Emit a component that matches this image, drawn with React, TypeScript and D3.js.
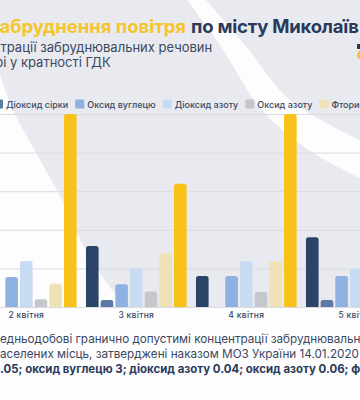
import React, { useEffect, useRef } from 'react';
import * as d3 from 'd3';

// days shown on the x axis
const dates = ['2 квітня', '3 квітня', '4 квітня', '5 квітня'];

// pollutants, in bar / legend order
const pollutants = ['Пил', 'Діоксид сірки', 'Оксид вуглецю', 'Діоксид азоту', 'Оксид азоту', 'Фтористий водень', 'Формальдегід'];
const colors = ['#2b4468', '#5b79a3', '#8fb1e2', '#c7dbf3', '#c6c7ca', '#efe2b6', '#f7c21a'];

// values in multiples of ГДК, one per date
const dust = [1.2, 1.58, 0.8, 1.81];
const sulfurDioxide = [0, 0.18, 0, 0.18];
const carbonMonoxide = [0.78, 0.59, 0.8, 0.8];
const nitrogenDioxide = [1.19, 0.99, 1.19, 0.99];
const nitrogenOxide = [0.2, 0.4, 0.39, 0.4];
const hydrogenFluoride = [0.6, 1.39, 1.19, 1.0];
const formaldehyde = [5.0, 3.19, 5.0, 4.0];

const yTicks = [0, 1, 2, 3, 4, 5];

const series = [dust, sulfurDioxide, carbonMonoxide, nitrogenDioxide, nitrogenOxide, hydrogenFluoride, formaldehyde];

const W = 360;
const H = 400;
const FONT = 'Inter, "Open Sans", sans-serif';
const TEXT = '#3b4861';

export default function App() {
  const ref = useRef<SVGSVGElement>(null);

  useEffect(() => {
    const svg = d3.select(ref.current);
    svg.selectAll('*').remove();

    // background: grey with white swooshes
    svg.append('rect').attr('width', W).attr('height', H).attr('fill', '#e9eaef');
    const curve = d3.line().curve(d3.curveCatmullRom);
    const leftEdge: [number, number][] = [[0, 74], [13, 110], [35, 151], [60, 196], [84, 247], [112, 290], [128, 308]];
    svg.append('path')
      .attr('d', curve(leftEdge) + `L${W},308L${W},${H}L0,${H}Z`)
      .attr('fill', '#fdfdfe');
    const bandTop: [number, number][] = [[206, 0], [245, 45], [290, 100], [360, 140]];
    const bandBottom: [number, number][] = [[360, 178], [310, 151], [262, 110], [220, 45], [187, 0]];
    svg.append('path')
      .attr('d', curve(bandTop) + 'L' + curve(bandBottom)!.slice(1) + 'Z')
      .attr('fill', '#fdfdfe');

    // scales
    const x0 = d3.scaleBand().domain(dates).range([-28.7, 411.3]).paddingInner(0.085).paddingOuter(0.0425);
    const x1 = d3.scaleBand().domain(pollutants).range([0, x0.bandwidth()]).paddingInner(0.14);
    const y = d3.scaleLinear().domain([0, 5]).range([307, 114]);

    // grid
    svg.append('g').selectAll('line').data(yTicks).join('line')
      .attr('x1', 0).attr('x2', W)
      .attr('y1', d => y(d) + 0.5).attr('y2', d => y(d) + 0.5)
      .attr('stroke', '#d9dbe1');

    // bars
    const r = 2.5;
    const groups = svg.append('g').selectAll('g').data(dates).join('g')
      .attr('transform', d => `translate(${x0(d)},0)`);
    groups.selectAll('path')
      .data((d, i) => series.map((s, k) => ({ key: pollutants[k], value: s[i], color: colors[k] })).filter(b => b.value > 0))
      .join('path')
      .attr('fill', d => d.color)
      .attr('d', d => {
        const bx = x1(d.key)!;
        const bw = x1.bandwidth();
        const top = y(d.value);
        const base = y(0);
        return `M${bx},${base}V${top + r}Q${bx},${top} ${bx + r},${top}H${bx + bw - r}Q${bx + bw},${top} ${bx + bw},${top + r}V${base}Z`;
      });

    // date labels
    svg.append('g').selectAll('text').data(dates).join('text')
      .attr('x', d => x0(d)! + x0.bandwidth() / 2)
      .attr('y', 317.5)
      .attr('text-anchor', 'middle')
      .attr('font-family', FONT).attr('font-size', 8.5).attr('font-weight', 500)
      .attr('letter-spacing', 0.3)
      .attr('fill', TEXT)
      .text(d => d);

    // text whose start is cut by the frame: the part after `cut` characters begins at visX
    const clipped = (parent: any, full: string, cut: number, visX: number, ty: number, size: number, weight: number, fill: string) => {
      const t = parent.append('text')
        .attr('y', ty)
        .attr('font-family', FONT).attr('font-size', size).attr('font-weight', weight)
        .attr('fill', fill)
        .style('white-space', 'pre')
        .text(full);
      const w = (t.node() as SVGTextElement).getSubStringLength(0, cut);
      t.attr('x', visX - w);
      return t;
    };

    // title, two coloured parts fitted to the widths they take in the poster
    const t1 = svg.append('text')
      .attr('y', 33)
      .attr('font-family', FONT).attr('font-size', 18.5).attr('font-weight', 700)
      .attr('fill', '#f5c52e')
      .text('Забруднення повітря');
    const zw = (t1.node() as SVGTextElement).getSubStringLength(0, 1);
    t1.attr('x', -zw - 0.5).attr('textLength', zw + 0.5 + 186).attr('lengthAdjust', 'spacing');
    svg.append('text')
      .attr('x', 191).attr('y', 33)
      .attr('font-family', FONT).attr('font-size', 18.5).attr('font-weight', 700)
      .attr('fill', '#2b3a5a')
      .attr('textLength', 168).attr('lengthAdjust', 'spacing')
      .text('по місту Миколаїв');

    clipped(svg, 'Концентрації забруднювальних речовин', 6, 0.5, 52, 13, 400, TEXT);
    clipped(svg, 'в атмосферному повітрі у кратності ГДК', 23, 10, 67, 13, 400, TEXT);

    // legend
    const legend = svg.append('g');
    const widths = pollutants.map(p => {
      const t = legend.append('text').attr('font-family', FONT).attr('font-size', 9).attr('font-weight', 500).text(p);
      const w = (t.node() as SVGTextElement).getComputedTextLength();
      t.remove();
      return w;
    });
    const xs: number[] = [];
    let lx = -6 - (12 + widths[0] + 7);
    widths.forEach(w => { xs.push(lx); lx += 12 + w + 7; });
    const items = legend.selectAll('g').data(pollutants).join('g')
      .attr('transform', (d, i) => `translate(${xs[i]},0)`);
    items.append('rect').attr('y', 99.5).attr('width', 9).attr('height', 9).attr('rx', 1)
      .attr('fill', (d, i) => colors[i]);
    items.append('text').attr('x', 12).attr('y', 107.5)
      .attr('font-family', FONT).attr('font-size', 9).attr('font-weight', 500)
      .attr('fill', TEXT).text(d => d);

    // small logo corner
    svg.append('circle').attr('cx', 362).attr('cy', 55).attr('r', 5).attr('fill', '#f5c52e');
    svg.append('rect').attr('x', 357).attr('y', 44).attr('width', 4).attr('height', 5).attr('fill', '#2b3a5a');

    // footnote
    clipped(svg, '*Середньодобові гранично допустимі концентрації забруднювальних речовин в атмосферному повітрі', 4, 0, 343, 11.7, 400, TEXT);
    clipped(svg, 'для населених місць, затверджені наказом МОЗ України 14.01.2020 № 52:', 5, 0, 358, 11.7, 400, TEXT);
    clipped(svg, 'діоксид сірки 0.05; оксид вуглецю 3; діоксид азоту 0.04; оксид азоту 0.06; фтористий водень 0.005; формальдегід 0.003', 15, 0, 373, 11.45, 700, '#2b3a5a');
  }, []);

  return (
    <svg ref={ref} width={W} height={H} style={{ position: 'absolute', left: 0, top: 0, display: 'block' }} />
  );
}
